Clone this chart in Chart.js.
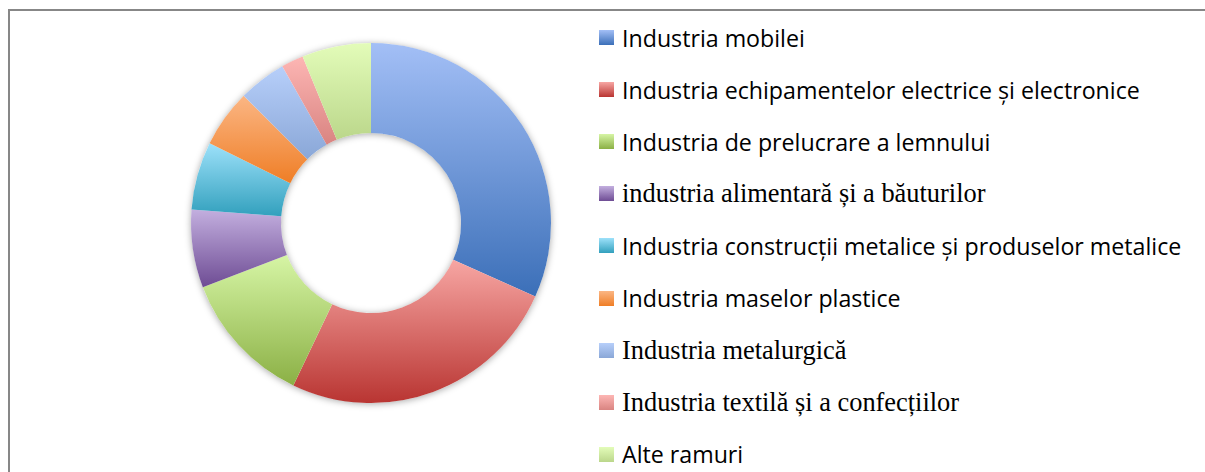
<!DOCTYPE html>
<html>
<head>
<meta charset="utf-8">
<script src="https://cdn.jsdelivr.net/npm/chart.js@4/dist/chart.umd.min.js"></script>
<style>
  html, body { margin: 0; padding: 0; background: #fff; }
  body { width: 1205px; height: 472px; position: relative; overflow: hidden; }
  .frame {
    position: absolute; left: 8px; top: 9px; width: 1300px; height: 600px;
    border-top: 2px solid #878787; border-left: 2px solid #878787;
  }
  #pie { position: absolute; left: 171px; top: 23px; }
  #legend { position: absolute; left: 599px; top: 0; }
  .item { position: absolute; left: 0; height: 30px; display: flex; align-items: center; white-space: nowrap; color: #000; }
  .box { width: 15px; height: 15px; margin-right: 8px; flex: none; }
  .sans { font-family: "Open Sans", "Noto Sans", sans-serif; font-size: 23.2px; }
  .serif { font-family: "Liberation Serif", "DejaVu Serif", serif; font-size: 26.4px; }
</style>
</head>
<body>
<div class="frame"></div>
<canvas id="pie" width="400" height="400"></canvas>
<div id="legend"></div>
<script>
// data (share of each branch, %)
const categories = [
  "Industria mobilei",
  "Industria echipamentelor electrice și electronice",
  "Industria de prelucrare a lemnului",
  "industria alimentară și a băuturilor",
  "Industria construcții metalice și produselor metalice",
  "Industria maselor plastice",
  "Industria metalurgică",
  "Industria textilă și a confecțiilor",
  "Alte ramuri"
];
const shares = [31.7, 25.4, 12.1, 7.0, 6.1, 5.2, 4.3, 2.0, 6.2];

// styling
const lightColors = ["#a3bff6", "#f7a6a3", "#d6f5a5", "#c3afdf", "#9de1fa", "#fbb684", "#b7cffa", "#fdb6b4", "#e3fcb9"];
const darkColors  = ["#3b6fb8", "#b93532", "#8bb045", "#6e4c94", "#32a0bd", "#ef7e26", "#8aa7d7", "#d98481", "#bbd78b"];
const labelFonts  = ["sans", "sans", "sans", "serif", "sans", "sans", "serif", "serif", "sans"];

// each slice gets its own top-to-bottom gradient, like the office chart
function sliceGradient(context) {
  const i = context.dataIndex;
  const chart = context.chart;
  const area = chart.chartArea;
  if (!area) return lightColors[i];
  const cx = (area.left + area.right) / 2;
  const cy = (area.top + area.bottom) / 2;
  const rOut = Math.min(area.width, area.height) / 2;
  const rIn = rOut * 0.5;
  const total = shares.reduce((a, b) => a + b, 0);
  let before = 0;
  for (let k = 0; k < i; k++) before += shares[k];
  const a0 = -Math.PI / 2 + 2 * Math.PI * before / total;
  const a1 = a0 + 2 * Math.PI * shares[i] / total;
  const ys = [];
  [a0, a1].forEach(a => { ys.push(cy + rIn * Math.sin(a)); ys.push(cy + rOut * Math.sin(a)); });
  // extreme points of the outer circle inside this slice
  [Math.PI / 2, 3 * Math.PI / 2, -Math.PI / 2].forEach(a => {
    if (a > a0 && a < a1) ys.push(cy + rOut * Math.sin(a));
  });
  const y0 = Math.min(...ys), y1 = Math.max(...ys);
  const g = chart.ctx.createLinearGradient(0, y0, 0, y1);
  g.addColorStop(0, lightColors[i]);
  g.addColorStop(1, darkColors[i]);
  return g;
}

// soft shadow behind the ring
const ringShadow = {
  id: "ringShadow",
  beforeDatasetsDraw(chart) {
    const meta = chart.getDatasetMeta(0);
    const arc = meta.data[0];
    if (!arc) return;
    const ctx = chart.ctx;
    ctx.save();
    ctx.shadowColor = "rgba(0,0,0,0.35)";
    ctx.shadowBlur = 7;
    ctx.shadowOffsetY = 1;
    ctx.fillStyle = "#fff";
    ctx.beginPath();
    ctx.arc(arc.x, arc.y, arc.outerRadius, 0, Math.PI * 2);
    ctx.arc(arc.x, arc.y, arc.innerRadius, 0, Math.PI * 2, true);
    ctx.fill();
    ctx.restore();
  }
};

const chart = new Chart(document.getElementById("pie"), {
  type: "doughnut",
  data: {
    labels: categories,
    datasets: [{
      data: shares,
      backgroundColor: sliceGradient,
      borderWidth: 0
    }]
  },
  options: {
    responsive: false,
    animation: false,
    cutout: "50%",
    layout: { padding: 20 },
    plugins: {
      legend: { display: false },
      tooltip: { enabled: false }
    }
  },
  plugins: [ringShadow]
});

// legend on the right
const legend = document.getElementById("legend");
categories.forEach((name, i) => {
  const row = document.createElement("div");
  row.className = "item " + labelFonts[i];
  row.style.top = (37.5 + 52.1 * i - 15) + "px";
  const box = document.createElement("span");
  box.className = "box";
  box.style.background = "linear-gradient(" + lightColors[i] + ", " + darkColors[i] + ")";
  const txt = document.createElement("span");
  txt.textContent = name;
  row.appendChild(box);
  row.appendChild(txt);
  legend.appendChild(row);
});
</script>
</body>
</html>
